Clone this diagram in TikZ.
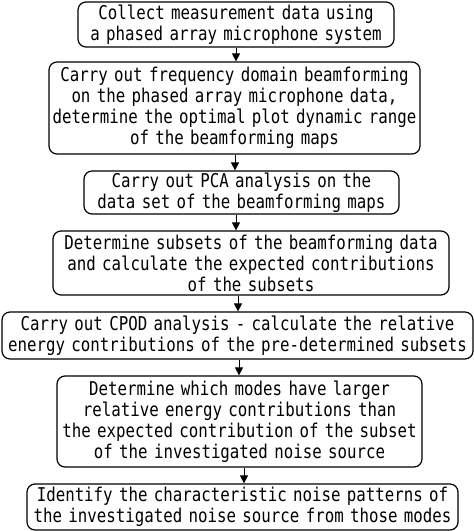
\documentclass[tikz,border=0pt]{standalone}
\usepackage{fontspec}
\usetikzlibrary{arrows.meta}
\newfontfamily\isofont[FakeStretch=0.83]{DejaVu Sans Mono}
\tikzset{
  stepbox/.style={draw, line width=1.2pt, rounded corners=8pt, inner xsep=-20pt, inner ysep=0pt,
    align=center, font=\isofont\fontsize{19}{21}\selectfont},
  arr/.style={line width=0.9pt, -{Triangle[width=8pt,length=8pt]}}
}
\begin{document}
\begin{tikzpicture}[x=1pt,y=-1pt]
\useasboundingbox (0,0) rectangle (474,531);
\node[stepbox, text width=356pt, minimum height=45pt] (b1) at (236,24.5)
  {Collect measurement data using\\a phased array microphone system};
\node[stepbox, text width=411pt, minimum height=92pt] (b2) at (234.5,108)
  {Carry out frequency domain beamforming\\on the phased array microphone data,\\determine the optimal plot dynamic range\\of the beamforming maps};
\node[stepbox, text width=355pt, minimum height=43pt] (b3) at (241.5,192.5)
  {Carry out PCA analysis on the\\data set of the beamforming maps};
\node[stepbox, text width=436pt, minimum height=64pt] (b4) at (251,263)
  {Determine subsets of the beamforming data\\and calculate the expected contributions\\of the subsets};
\node[stepbox, text width=511pt, minimum height=47pt] (b5) at (237.5,335.5)
  {Carry out CPOD analysis - calculate the relative\\energy contributions of the pre-determined subsets};
\node[stepbox, text width=405pt, minimum height=91pt] (b6) at (239.5,421.5)
  {Determine which modes have larger\\relative energy contributions than\\the expected contribution of the subset\\of the investigated noise source};
\node[stepbox, text width=471pt, minimum height=46pt] (b7) at (242.5,507)
  {Identify the characteristic noise patterns of\\the investigated noise source from those modes};
\draw[arr] (b1.south -| 236,0) -- (b2.north -| 236,0);
\draw[arr] (b2.south -| 235,0) -- (b3.north -| 235,0);
\draw[arr] (b3.south -| 236,0) -- (b4.north -| 236,0);
\draw[arr] (b4.south -| 238,0) -- (b5.north -| 238,0);
\draw[arr] (b5.south -| 239,0) -- (b6.north -| 239,0);
\draw[arr] (b6.south -| 244,0) -- (b7.north -| 244,0);
\end{tikzpicture}
\end{document}
